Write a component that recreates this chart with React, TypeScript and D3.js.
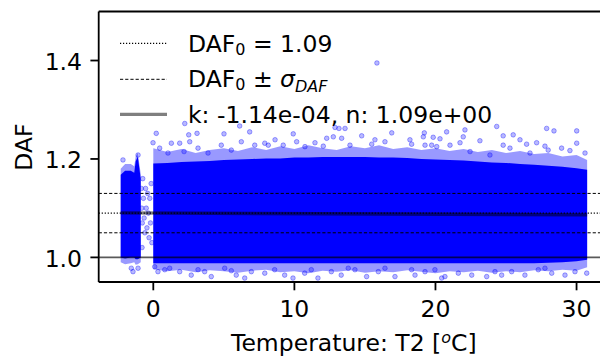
import React from 'react';
import * as d3 from 'd3';

// reference values
const DAF0 = 1.09;
const SIGMA = 0.04;
const FIT_K = -1.14e-4;
const FIT_N = 1.09;
const FIT_RANGE = [-2.31, 30.75];

const xTicks = [0, 10, 20, 30];
const yTicks = [1.0, 1.2, 1.4];

// dense main block (T >= 0): solid core and fuzzy fringe
const mainT = [0, 1, 2, 3, 4, 5, 6, 7, 8, 9, 10, 11, 12, 13, 14, 15, 16, 17, 18, 19, 20,
  21, 22, 23, 24, 25, 26, 27, 28, 29, 30, 30.75];
const mainTop = [1.191, 1.192, 1.194, 1.195, 1.196, 1.198, 1.199, 1.2, 1.201, 1.201, 1.203,
  1.203, 1.204, 1.204, 1.204, 1.204, 1.203, 1.203, 1.202, 1.2, 1.199, 1.198, 1.197, 1.195,
  1.193, 1.192, 1.19, 1.188, 1.186, 1.184, 1.181, 1.178];
const mainBottom = [0.988, 0.988, 0.988, 0.988, 0.988, 0.988, 0.988, 0.988, 0.988, 0.988,
  0.988, 0.988, 0.988, 0.988, 0.988, 0.988, 0.988, 0.988, 0.988, 0.988, 0.988, 0.988, 0.988,
  0.988, 0.988, 0.988, 0.988, 0.988, 0.989, 0.99, 0.992, 0.995];
const mainFringeTop = [1.222, 1.214, 1.22, 1.212, 1.218, 1.222, 1.216, 1.224, 1.218, 1.226,
  1.22, 1.228, 1.222, 1.218, 1.226, 1.222, 1.228, 1.22, 1.224, 1.218, 1.222, 1.216, 1.22,
  1.214, 1.218, 1.212, 1.216, 1.21, 1.212, 1.205, 1.208, 1.198];
const mainFringeBottom = [0.976, 0.972, 0.975, 0.97, 0.974, 0.972, 0.969, 0.973, 0.975, 0.97,
  0.972, 0.968, 0.973, 0.971, 0.974, 0.969, 0.972, 0.97, 0.974, 0.971, 0.968, 0.972, 0.97,
  0.973, 0.969, 0.972, 0.97, 0.974, 0.972, 0.975, 0.973, 0.98];

// cluster below 0 degC
const leftT = [-2.31, -2.0, -1.6, -1.35, -1.25, -1.1, -0.89];
const leftTop = [1.168, 1.176, 1.176, 1.172, 1.195, 1.205, 1.16];
const leftBottom = [1.0, 0.998, 1.0, 1.0, 0.996, 0.996, 1.0];
const leftFringeTop = [1.18, 1.19, 1.19, 1.185, 1.205, 1.212, 1.17];
const leftFringeBottom = [0.99, 0.986, 0.988, 0.99, 0.985, 0.986, 0.99];

// scattered points outside the dense block [T, DAF]
const outliers: [number, number][] = [
  [0.21, 1.252], [2.51, 1.249], [3.10, 1.252], [1.28, 1.232], [1.87, 1.232], [2.58, 1.235],
  [5.01, 1.251], [6.12, 1.267], [6.83, 1.255], [6.24, 1.235], [7.19, 1.228], [7.90, 1.232],
  [-0.02, 1.233], [0.45, 1.222], [1.04, 1.212], [2.18, 1.215], [3.17, 1.222], [3.88, 1.212],
  [4.82, 1.228], [5.53, 1.218], [-2.15, 1.198], [-1.08, 1.208], [2.23, 1.272],
  [9.92, 1.251], [12.88, 1.264], [13.59, 1.262], [14.77, 1.247], [16.90, 1.253], [19.21, 1.253],
  [19.14, 1.245], [13.35, 1.242], [15.71, 1.239], [18.19, 1.239], [8.63, 1.239], [9.21, 1.228],
  [10.16, 1.235], [12.29, 1.242], [12.76, 1.245], [11.46, 1.233], [12.05, 1.226], [13.94, 1.228],
  [15.48, 1.230], [16.42, 1.235], [18.31, 1.230], [19.26, 1.228], [19.73, 1.228], [8.15, 1.228],
  [10.75, 1.225], [13.16, 1.262],
  [24.34, 1.266], [27.88, 1.262], [28.40, 1.257], [30.01, 1.257], [20.79, 1.255], [22.09, 1.259],
  [19.84, 1.244], [20.32, 1.241], [21.97, 1.245], [24.80, 1.247], [25.51, 1.249], [23.15, 1.237],
  [21.74, 1.233], [24.80, 1.228], [25.99, 1.239], [27.17, 1.233], [27.76, 1.226], [28.94, 1.222],
  [30.01, 1.232], [26.46, 1.230], [20.09, 1.225], [21.03, 1.228], [22.45, 1.215], [23.86, 1.208],
  [25.28, 1.222], [27.99, 1.218], [29.53, 1.217], [30.60, 1.212], [26.70, 1.212],
  [15.85, 1.395],
  [0.10, 0.981], [0.81, 0.975], [1.16, 0.978], [1.87, 0.971], [2.69, 0.964], [3.17, 0.975],
  [4.11, 0.961], [5.06, 0.978], [5.88, 0.964], [6.48, 0.958], [6.95, 0.971], [7.90, 0.968],
  [8.60, 0.975], [9.31, 0.964], [9.90, 0.958], [10.73, 0.968], [11.67, 0.958], [12.62, 0.971],
  [13.32, 0.964], [-1.56, 0.978], [-1.08, 0.978], [-1.44, 0.971], [0.33, 0.971], [3.64, 0.971],
  [5.53, 0.973], [11.20, 0.975],
  [13.82, 0.978], [14.29, 0.975], [15.12, 0.961], [15.95, 0.971], [17.13, 0.961], [18.55, 0.964],
  [19.26, 0.971], [20.44, 0.958], [20.67, 0.961], [21.62, 0.968], [22.57, 0.964], [23.63, 0.961],
  [24.69, 0.964], [25.40, 0.971], [26.34, 0.964], [27.29, 0.975], [28.24, 0.968], [29.18, 0.964],
  [29.89, 0.971], [30.72, 0.968], [18.31, 0.975], [24.22, 0.971], [16.42, 0.978], [19.96, 0.975],
  [27.76, 0.978],
  [-0.75, 1.16], [-0.7, 1.12], [-0.65, 1.08], [-0.6, 1.05], [-0.55, 1.14], [-0.5, 1.10],
  [-0.45, 1.06], [-0.4, 1.13], [-0.35, 1.09], [-0.3, 1.04], [-0.25, 1.12], [-0.2, 1.07],
  [-0.15, 1.15], [-0.1, 1.03], [-0.8, 1.02], [-0.82, 1.10], [-0.78, 1.07], [-0.85, 1.14],
];

const FONT = 'DejaVu Sans, sans-serif';
const BLUE = '#0000ff';
const FS = 23.5;

const App: React.FC = () => {
  const left = 98.7, top = 11.5, bottom = 282, right = 609;
  const x = d3.scaleLinear().domain([-3.87, 32.3]).range([left, right]);
  const y = d3.scaleLinear().domain([0.95, 1.5]).range([bottom, 11.3]);

  const band = (ts: number[], hi: number[], lo: number[]) =>
    d3.area<number>()
      .x((_, i) => x(ts[i]))
      .y0((_, i) => y(lo[i]))
      .y1((_, i) => y(hi[i]))(ts) || '';

  const fitLine = d3.line<number>()
    .x(t => x(t))
    .y(t => y(FIT_N + FIT_K * t))(FIT_RANGE) || '';

  const hline = (v: number, extra: React.SVGProps<SVGLineElement>) => (
    <line x1={left} x2={right} y1={y(v)} y2={y(v)} {...extra} />
  );

  const legendY = [43.3, 79.3, 114.3];

  return (
    <svg width={600} height={356} style={{ position: 'absolute', left: 0, top: 0 }}
      fontFamily={FONT}>
      <defs>
        <clipPath id="plot">
          <rect x={left} y={top} width={right - left} height={bottom - top} />
        </clipPath>
      </defs>
      <rect width={600} height={356} fill="#fff" />

      <g clipPath="url(#plot)">
        <path d={band(mainT, mainFringeTop, mainFringeBottom)} fill={BLUE} opacity={0.4} />
        <path d={band(leftT, leftFringeTop, leftFringeBottom)} fill={BLUE} opacity={0.4} />
        <path d={band(mainT, mainTop, mainBottom)} fill={BLUE} />
        <path d={band(leftT, leftTop, leftBottom)} fill={BLUE} />
        {outliers.map((d, i) => (
          <circle key={i} cx={x(d[0])} cy={y(d[1])} r={2.3}
            fill={BLUE} fillOpacity={0.28} stroke={BLUE} strokeOpacity={0.5} strokeWidth={0.7} />
        ))}

        {hline(1.0, { stroke: '#000', strokeOpacity: 0.65, strokeWidth: 1.8 })}
        {hline(DAF0, { stroke: '#000', strokeWidth: 1.2, strokeDasharray: '1.2,1.8' })}
        {hline(DAF0 + SIGMA, { stroke: '#000', strokeWidth: 1, strokeDasharray: '3.2,2' })}
        {hline(DAF0 - SIGMA, { stroke: '#000', strokeWidth: 1, strokeDasharray: '3.2,2' })}
        <path d={fitLine} stroke="#000" strokeOpacity={0.5} strokeWidth={3.3} fill="none" />
      </g>

      {/* spines */}
      <g stroke="#000" strokeWidth={1.8} fill="none">
        <line x1={left} x2={left} y1={top} y2={bottom} />
        <line x1={left} x2={right} y1={bottom} y2={bottom} />
        <line x1={left} x2={right} y1={top} y2={top} />
      </g>

      {/* x axis */}
      {xTicks.map(t => (
        <g key={t}>
          <line x1={x(t)} x2={x(t)} y1={bottom} y2={bottom + 8.3} stroke="#000" strokeWidth={1.8} />
          <text x={x(t)} y={317.3} textAnchor="middle" fontSize={FS}>{t}</text>
        </g>
      ))}
      <text x={(left + right) / 2} y={351} textAnchor="middle" fontSize={FS}>
        Temperature: T2 [<tspan fontSize={16} fontStyle="italic" dy={-8}>o</tspan><tspan dy={8}>C]</tspan>
      </text>

      {/* y axis */}
      {yTicks.map(v => (
        <g key={v}>
          <line x1={left - 8.3} x2={left} y1={y(v)} y2={y(v)} stroke="#000" strokeWidth={1.8} />
          <text x={82} y={y(v) + 9.3} textAnchor="end" fontSize={FS}>{v.toFixed(1)}</text>
        </g>
      ))}
      <text transform="translate(31.5,147) rotate(-90)" textAnchor="middle" fontSize={FS}>DAF</text>

      {/* legend */}
      <g>
        <line x1={120} x2={167} y1={legendY[0]} y2={legendY[0]} stroke="#000" strokeWidth={1.2} strokeDasharray="1.2,1.8" />
        <line x1={120} x2={167} y1={legendY[1]} y2={legendY[1]} stroke="#000" strokeWidth={1} strokeDasharray="3.2,2" />
        <line x1={120} x2={167} y1={legendY[2]} y2={legendY[2]} stroke="#000" strokeOpacity={0.5} strokeWidth={3.3} />
        <text x={188} y={52.3} fontSize={FS} style={{ whiteSpace: 'pre' }}>
          DAF<tspan fontSize={16} dy={3}>0</tspan><tspan dy={-3}>{' = 1.09'}</tspan>
        </text>
        <text x={188} y={87} fontSize={FS} style={{ whiteSpace: 'pre' }}>
          DAF<tspan fontSize={16} dy={3}>0</tspan><tspan dy={-3}>{' \u00b1 '}</tspan>
          <tspan fontStyle="italic">{'\u03c3'}</tspan>
          <tspan fontSize={16} fontStyle="italic" dy={5}>DAF</tspan>
        </text>
        <text x={188} y={123} fontSize={FS} style={{ whiteSpace: 'pre' }}>
          k: -1.14e-04, n: 1.09e+00
        </text>
      </g>
    </svg>
  );
};

export default App;
